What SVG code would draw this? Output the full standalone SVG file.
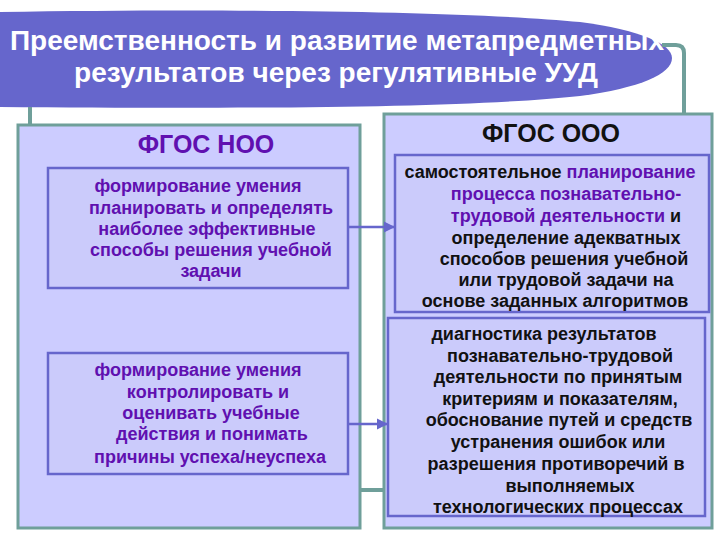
<svg xmlns="http://www.w3.org/2000/svg" width="720" height="540" viewBox="0 0 720 540">
<defs>
<style>
.outer{fill:#ccccff;stroke:#6f9f9a;stroke-width:3}
.inner{fill:#cbcbfb;stroke:#6666cc;stroke-width:2.5}
.conn{fill:none;stroke:#6f9f9a;stroke-width:4}
.arr{fill:none;stroke:#6666cc;stroke-width:2.5}
.t{font-family:"Liberation Sans",Arial,sans-serif;font-weight:bold;text-anchor:middle}
.body{font-size:18px}
.pur{fill:#6010b0}
.blk{fill:#111}
.title{font-size:28px;fill:#fff}
</style>
<marker id="ah" viewBox="0 0 10 10" refX="9" refY="5" markerWidth="4.5" markerHeight="4.5" orient="auto" markerUnits="strokeWidth">
<path d="M0,0 L10,5 L0,10 Z" fill="#6666cc"/>
</marker>
</defs>
<rect width="720" height="540" fill="#fff"/>
<g id="noo">
<rect class="outer" x="18" y="125" width="342" height="403"/>
<text class="t" x="206" y="153" font-size="25" fill="#6010b0">ФГОС НОО</text>
</g>
<g id="ooo">
<rect class="outer" x="384" y="114" width="328" height="414"/>
<text class="t" x="551" y="142" font-size="25" fill="#111">ФГОС ООО</text>
</g>
<g id="banner">
<path d="M0,12 C250,8 480,12 580,22 C640,30 672,44 672,58 C672,74 640,88 580,96 C470,108 250,109 0,107 Z" fill="#6666cc"/>
<text class="t title" x="337" y="50">Преемственность и развитие метапредметных</text>
<text class="t title" x="336" y="82">результатов через регулятивные УУД</text>
</g>
<g id="noo-plan">
<rect class="inner" x="48" y="168" width="300" height="120"/>
<g class="t body pur">
<text x="198" y="192">формирование умения</text>
<text x="211" y="214">планировать и определять</text>
<text x="207" y="235">наиболее эффективные</text>
<text x="211" y="256">способы решения учебной</text>
<text x="211" y="277">задачи</text>
</g>
</g>
<g id="noo-control">
<rect class="inner" x="48" y="353" width="300" height="121"/>
<g class="t body pur">
<text x="198" y="376">формирование умения</text>
<text x="208" y="398">контролировать и</text>
<text x="211" y="419">оценивать учебные</text>
<text x="212" y="440">действия и понимать</text>
<text x="210" y="463">причины успеха/неуспеха</text>
</g>
</g>
<g id="ooo-plan">
<rect class="inner" x="395" y="155" width="314" height="157"/>
<g class="t body">
<text x="550" y="178"><tspan class="blk">самостоятельное </tspan><tspan class="pur">планирование</tspan></text>
<text x="566" y="200" class="pur">процесса познавательно-</text>
<text x="566" y="222"><tspan class="pur">трудовой деятельности</tspan><tspan class="blk"> и</tspan></text>
<text x="566" y="244" class="blk">определение адекватных</text>
<text x="564" y="265" class="blk">способов решения учебной</text>
<text x="566" y="286" class="blk">или трудовой задачи на</text>
<text x="555" y="307" class="blk">основе заданных алгоритмов</text>
</g>
</g>
<g id="ooo-diag">
<rect class="inner" x="388" y="318" width="317" height="198"/>
<g class="t body blk">
<text x="544" y="340">диагностика результатов</text>
<text x="560" y="362">познавательно-трудовой</text>
<text x="558" y="383">деятельности по принятым</text>
<text x="560" y="405">критериям и показателям,</text>
<text x="559" y="426">обоснование путей и средств</text>
<text x="558" y="448">устранения ошибок или</text>
<text x="556" y="470">разрешения противоречий в</text>
<text x="570" y="492">выполняемых</text>
<text x="558" y="513">технологических процессах</text>
</g>
</g>
<g id="connectors">
<path class="conn" d="M30,107 V124"/>
<path class="conn" d="M662,45 H676 Q684,45 684,53 V113"/>
<path class="conn" d="M361,490 H383"/>
<path class="arr" d="M349,227 H394" marker-end="url(#ah)"/>
<path class="arr" d="M349,424 H387" marker-end="url(#ah)"/>
</g>
</svg>
